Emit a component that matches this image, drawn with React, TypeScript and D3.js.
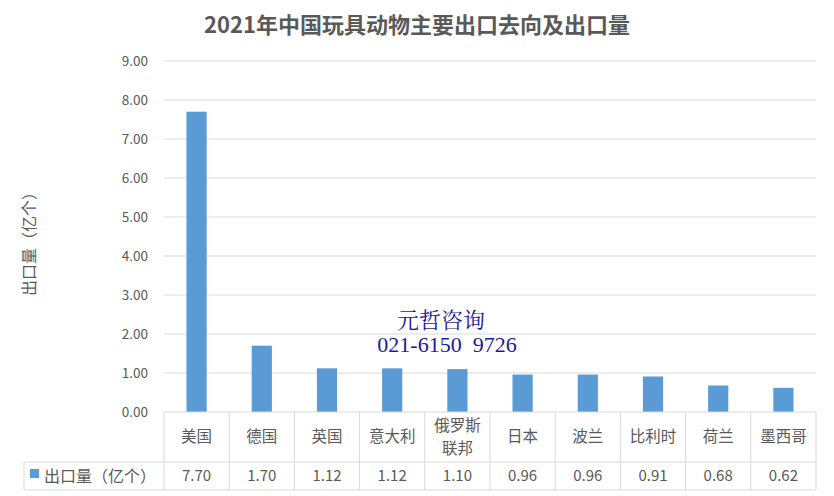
import React from 'react';
import * as d3 from 'd3';

const title = '2021年中国玩具动物主要出口去向及出口量';
const seriesName = '出口量（亿个）';
const categories = ['美国', '德国', '英国', '意大利', '俄罗斯\n联邦', '日本', '波兰', '比利时', '荷兰', '墨西哥'];
const values = [7.7, 1.7, 1.12, 1.12, 1.1, 0.96, 0.96, 0.91, 0.68, 0.62];
const yTicks = [0, 1, 2, 3, 4, 5, 6, 7, 8, 9];

const W = 834;
const H = 496;
const plot = { left: 164, right: 816, top: 61, bottom: 412 };
const tableLeft = 24;
const row1Bottom = 462;
const row2Bottom = 490;
const font = '"Microsoft YaHei", "Noto Sans CJK SC", sans-serif';
const textColor = '#595959';
const gridColor = '#d9d9d9';
const barColor = '#5b9bd5';

const App: React.FC = () => {
  const x = d3.scaleBand<string>().domain(categories).range([plot.left, plot.right]).paddingInner(0).paddingOuter(0);
  const y = d3.scaleLinear().domain([0, 9]).range([plot.bottom, plot.top]);
  const barW = x.bandwidth() * 0.31;

  return (
    <svg width={W} height={H} style={{ position: 'absolute', left: 0, top: 0, background: '#fff' }} fontFamily={font}>
      <text x={417} y={33} textAnchor="middle" fontSize={22} fontWeight="bold" fill={textColor}>{title}</text>

      {yTicks.map(t => (
        <g key={t}>
          {t > 0 && <line x1={plot.left} x2={plot.right} y1={y(t)} y2={y(t)} stroke={gridColor} strokeWidth={1} />}
          <text x={148} y={y(t)} dy="0.35em" textAnchor="end" fontSize={13.5} fill={textColor}>{t.toFixed(2)}</text>
        </g>
      ))}

      <text transform={`translate(35,240) rotate(-90)`} textAnchor="middle" fontSize={16} fill={textColor}>{seriesName}</text>

      {categories.map((c, i) => (
        <rect key={c} x={(x(c) as number) + (x.bandwidth() - barW) / 2} y={y(values[i])} width={barW} height={y(0) - y(values[i])} fill={barColor} />
      ))}

      {/* data table */}
      <g stroke={gridColor} strokeWidth={1} fill="none">
        <line x1={plot.left} x2={plot.right} y1={plot.bottom} y2={plot.bottom} />
        <line x1={tableLeft} x2={plot.right} y1={row1Bottom} y2={row1Bottom} />
        <line x1={tableLeft} x2={plot.right} y1={row2Bottom} y2={row2Bottom} />
        <line x1={tableLeft} x2={tableLeft} y1={row1Bottom} y2={row2Bottom} />
        {categories.map(c => (
          <line key={c} x1={x(c)} x2={x(c)} y1={plot.bottom} y2={row2Bottom} />
        ))}
        <line x1={plot.right} x2={plot.right} y1={plot.bottom} y2={row2Bottom} />
      </g>
      {categories.map((c, i) => {
        const cx = (x(c) as number) + x.bandwidth() / 2;
        const lines = c.split('\n');
        const mid = (plot.bottom + row1Bottom) / 2;
        return (
          <g key={c}>
            {lines.map((l, j) => (
              <text key={j} x={cx} y={mid + (j - (lines.length - 1) / 2) * 23} dy="0.35em" textAnchor="middle" fontSize={15.5} fill={textColor}>{l}</text>
            ))}
            <text x={cx} y={(row1Bottom + row2Bottom) / 2} dy="0.35em" textAnchor="middle" fontSize={15} fill={textColor}>{values[i].toFixed(2)}</text>
          </g>
        );
      })}
      <rect x={30} y={469} width={9} height={9} fill={barColor} />
      <text x={44} y={(row1Bottom + row2Bottom) / 2} dy="0.35em" fontSize={16} fill={textColor}>{seriesName}</text>

      {/* watermark */}
      <g fill="#1a1a9a">
        <text x={441} y={328} textAnchor="middle" fontSize={22} fontFamily='"Noto Serif CJK SC", "DejaVu Serif", "Liberation Serif", serif'>元哲咨询</text>
        <text x={447} y={352} textAnchor="middle" fontSize={22} fontFamily='"Liberation Serif", serif' style={{ whiteSpace: 'pre' }}>{'021-6150  9726'}</text>
      </g>
    </svg>
  );
};

export default App;
